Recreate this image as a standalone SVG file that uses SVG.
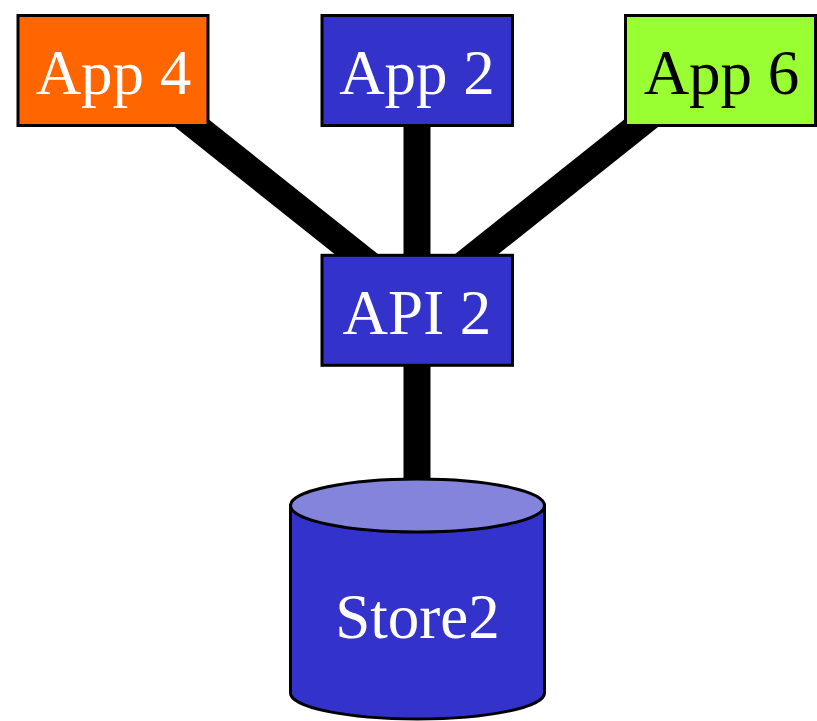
<svg xmlns="http://www.w3.org/2000/svg" width="817" height="721" viewBox="0 0 817 721">
  <style>
    .box { stroke: #000; stroke-width: 3; }
    .lbl { font-family: "Liberation Serif", "Times New Roman", serif; font-size: 63px; text-anchor: middle; }
    .light { fill: #ffffff; }
    .dark { fill: #000000; }
    .link { stroke: #000; stroke-width: 27; fill: none; }
  </style>
  <g id="connectors">
    <line class="link" x1="125" y1="70" x2="414" y2="300"/>
    <line class="link" x1="417" y1="70" x2="417" y2="300"/>
    <line class="link" x1="708" y1="70" x2="419" y2="300"/>
    <line class="link" x1="417" y1="310" x2="417" y2="510"/>
  </g>
  <g id="app4">
    <rect class="box" x="18" y="15.5" width="190" height="110" fill="#ff6600"/>
    <text class="lbl light" x="113.5" y="94">App 4</text>
  </g>
  <g id="app2">
    <rect class="box" x="322" y="15.5" width="190.5" height="110" fill="#3333cc"/>
    <text class="lbl light" x="417" y="94">App 2</text>
  </g>
  <g id="app6">
    <rect class="box" x="625.5" y="15.5" width="190" height="110" fill="#99ff33"/>
    <text class="lbl dark" x="721.5" y="94">App 6</text>
  </g>
  <g id="api2">
    <rect class="box" x="322" y="255.3" width="190.5" height="110" fill="#3333cc"/>
    <text class="lbl light" x="417" y="334">API 2</text>
  </g>
  <g id="store2">
    <path class="box" d="M290.5,505.5 L290.5,693 A127,26 0 0 0 544.5,693 L544.5,505.5 Z" fill="#3333cc"/>
    <ellipse class="box" cx="417.5" cy="505.5" rx="127" ry="26.5" fill="#8484dd"/>
    <text class="lbl light" x="417.5" y="638">Store2</text>
  </g>
</svg>
